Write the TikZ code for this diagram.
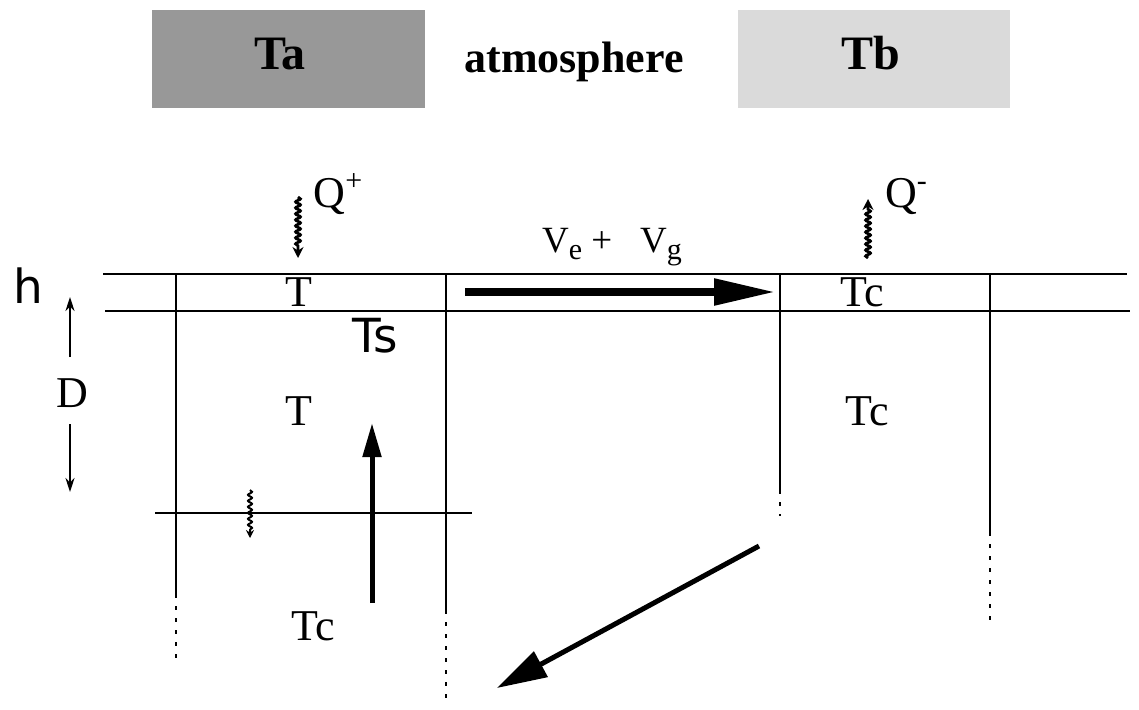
\documentclass[tikz,border=0pt]{standalone}
\usepackage{fontspec}
\setmainfont{Liberation Serif}
\newfontfamily\dejavu{DejaVu Sans}
\usetikzlibrary{arrows.meta,decorations.pathmorphing}
\newcommand{\mysub}[1]{\raisebox{-7pt}{\fontsize{30}{34}\selectfont #1}}
\newcommand{\mysup}[1]{\raisebox{17pt}{\fontsize{30}{34}\selectfont #1}}
\begin{document}
\begin{tikzpicture}[x=1pt,y=-1pt,
  lbl/.style={inner sep=0pt,anchor=base,font=\fontsize{44}{50}\selectfont},
  smalllbl/.style={inner sep=0pt,anchor=base,font=\fontsize{37}{42}\selectfont},
  head/.style={inner sep=0pt,anchor=base,font=\fontsize{48}{54}\selectfont\bfseries},
  sanslbl/.style={inner sep=0pt,anchor=base,font=\dejavu\fontsize{47}{52}\selectfont},
  gline/.style={line width=2.8pt},
  vline/.style={line width=2.4pt},
  dotcont/.style={line width=2.4pt,dash pattern=on 4pt off 8pt},
  wavy/.style={line width=2.8pt,decorate,decoration={snake,amplitude=2.4pt,segment length=6pt,post length=10pt},-{Stealth[length=11pt,width=11pt]}},
  thinarrow/.style={line width=2pt,-{Stealth[length=14pt,width=9pt]}}
]
\useasboundingbox (0,0) rectangle (1139,709);
% atmosphere boxes
\node[fill={rgb,255:red,152;green,152;blue,152},minimum width=273pt,minimum height=98pt,inner sep=0pt] (boxa) at (288.5,59) {};
\node[fill={rgb,255:red,218;green,218;blue,218},minimum width=272pt,minimum height=98pt,inner sep=0pt] (boxb) at (874,59) {};
\node[head] (ta) at (280,70) {Ta};
\node[head,font=\fontsize{44}{50}\selectfont\bfseries] (atm) at (574,72) {atmosphere};
\node[head] (tb) at (871,70) {Tb};

% coordinates
\coordinate (l1a) at (103,274); \coordinate (l1b) at (1127,274);
\coordinate (l2a) at (105,311); \coordinate (l2b) at (1130,311);
\draw[gline] (l1a) -- (l1b);
\draw[gline] (l2a) -- (l2b);

% vertical walls
\coordinate (v1t) at (176,274); \coordinate (v1m) at (176,594); \coordinate (v1e) at (176,664);
\coordinate (v2t) at (446,274); \coordinate (v2m) at (446,610); \coordinate (v2e) at (446,704);
\coordinate (v3t) at (780,274); \coordinate (v3m) at (780,490); \coordinate (v3e) at (780,516);
\coordinate (v4t) at (990,274); \coordinate (v4m) at (990,532); \coordinate (v4e) at (990,624);
\draw[vline] (v1t) -- (v1m); \draw[dotcont] (v1m) -- (v1e);
\draw[vline] (v2t) -- (v2m); \draw[dotcont] (v2m) -- (v2e);
\draw[vline] (v3t) -- (v3m); \draw[dotcont] (v3m) -- (v3e);
\draw[vline] (v4t) -- (v4m); \draw[dotcont] (v4m) -- (v4e);

% lower horizontal line
\coordinate (l3a) at (155,513); \coordinate (l3b) at (472,513);
\draw[gline] (l3a) -- (l3b);

% labels
\node[lbl] (qp) at (338,207) {Q\mysup{+}};
\node[lbl] (qm) at (906,207) {Q\mysup{-}};
\node[smalllbl] (vv) at (612,252) {V\mysub{e} + \ \ V\mysub{g}};
\node[lbl] (t1) at (299,306) {T};
\node[lbl] (tc1) at (862,306) {Tc};
\node[sanslbl] (ts) at (375,352) {Ts};
\node[sanslbl] (h) at (28,303) {h};
\node[lbl] (d) at (72,407) {D};
\node[lbl] (t2) at (299,425) {T};
\node[lbl] (tc2) at (867,425) {Tc};
\node[lbl] (tc3) at (313,640) {Tc};

% heat flux arrows
\coordinate (qpa) at (298,197); \coordinate (qpb) at (298,258);
\draw[wavy] (qpa) -- (qpb);
\coordinate (qma) at (868,258); \coordinate (qmb) at (868,199);
\draw[wavy] (qma) -- (qmb);
\coordinate (wsa) at (250,490); \coordinate (wsb) at (250,538);
\draw[wavy,line width=2pt,decoration={snake,amplitude=2pt,segment length=6pt,post length=8pt},-{Stealth[length=8pt,width=8pt]}] (wsa) -- (wsb);

% D arrows
\coordinate (da1) at (70,357); \coordinate (da2) at (70,297);
\draw[thinarrow] (da1) -- (da2);
\coordinate (db1) at (70,424); \coordinate (db2) at (70,492);
\draw[thinarrow] (db1) -- (db2);

% big flow arrow
\coordinate (fa) at (465,292); \coordinate (fb) at (776,292);
\draw[line width=8.5pt,-{Triangle[length=62pt,width=25pt]}] (fa) -- (fb);

% upward arrow
\coordinate (ua) at (372,603); \coordinate (ub) at (372,423);
\draw[line width=5pt,-{Triangle[length=34pt,width=18pt]}] (ua) -- (ub);

% diagonal arrow
\coordinate (ga) at (759,546); \coordinate (gb) at (497,688);
\draw[line width=5pt,-{Triangle[length=50pt,width=28pt]}] (ga) -- (gb);
\end{tikzpicture}
\end{document}
